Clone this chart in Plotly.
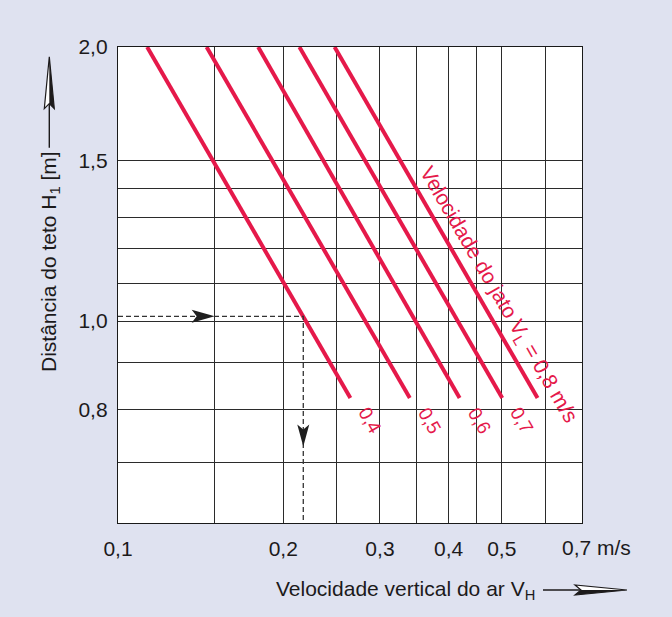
import math
import plotly.graph_objects as go

# Jet outlet velocity V_L of each curve [m/s]
jet_speeds = [0.4, 0.5, 0.6, 0.7, 0.8]
jet_labels = ["0,4", "0,5", "0,6", "0,7"]
# Vertical air velocity V_H [m/s] where each curve starts (H = 2.0 m) and ends (H = 0.823 m)
v_h_start = [0.113, 0.145, 0.180, 0.214, 0.248]
v_h_end = [0.265, 0.340, 0.419, 0.501, 0.581]
h_start = 2.0
h_end = 0.823

# Worked example: ceiling distance -> curve 0,4 -> vertical air velocity
example_h = 1.012
example_v = 0.2175
example_arrow_v = 0.15      # tip of the horizontal arrow
example_arrow_h = 0.728     # tip of the vertical arrow

# Axis extents, labelled ticks and unlabelled grid lines
x_range = [0.1, 0.7]
x_tickvals = [0.1, 0.2, 0.3, 0.4, 0.5]
x_ticktext = ["0,1", "0,2", "0,3", "0,4", "0,5"]
x_minor_grid = [0.15, 0.25, 0.35, 0.45, 0.6, 0.7]
y_range = [0.6, 2.0]
y_tickvals = [0.8, 1.0, 1.5, 2.0]
y_ticktext = ["0,8", "1,0", "1,5", "2,0"]
y_minor_grid = [0.6, 0.7, 0.9, 1.1, 1.2, 1.3, 1.4]

RED = "#E5194A"
INK = "#1c1a1b"
GRID = "#2b2b2b"
BG = "#DFE2F0"
FONT = "Liberation Sans, Arial, sans-serif"

W, H = 672, 617
ML, MR, MT, MB = 118, 90, 47, 94
PW, PH = W - ML - MR, H - MT - MB


def px_to_paper(px, py):
    return (px - ML) / PW, (H - MB - py) / PH


def point_on_curve(i, h):
    """V_H on curve i at ceiling distance h (straight line in log-log)."""
    t = math.log10(h_start / h) / math.log10(h_start / h_end)
    lv = math.log10(v_h_start[i]) + t * (math.log10(v_h_end[i]) - math.log10(v_h_start[i]))
    return 10 ** lv


fig = go.Figure()

# Curves for each jet velocity
for i, vl in enumerate(jet_speeds):
    fig.add_trace(go.Scatter(
        x=[v_h_start[i], v_h_end[i]], y=[h_start, h_end],
        mode="lines", line=dict(color=RED, width=4),
        name=f"V_L = {vl}", showlegend=False, hoverinfo="skip",
    ))

# Dashed reading path of the example
fig.add_trace(go.Scatter(
    x=[x_range[0], example_v, example_v], y=[example_h, example_h, y_range[0]],
    mode="lines", line=dict(color="#333333", width=1.3, dash="5px,3px"),
    showlegend=False, hoverinfo="skip",
))

shapes = []
# arrowhead pointing right on the horizontal dashed line
shapes.append(dict(
    type="path", xref="x", yref="y", xsizemode="pixel", ysizemode="pixel",
    xanchor=example_arrow_v, yanchor=example_h,
    path="M0,0 L-23,6.5 L-18,0 L-23,-6.5 Z",
    fillcolor="#1e1e1e", line=dict(width=0),
))
# arrowhead pointing down on the vertical dashed line
shapes.append(dict(
    type="path", xref="x", yref="y", xsizemode="pixel", ysizemode="pixel",
    xanchor=example_v, yanchor=example_arrow_h,
    path="M0,0 L-6,22 L0,17 L6,22 Z",
    fillcolor="#1e1e1e", line=dict(width=0),
))

# Axis-title arrows (paper anchored, drawn in pixels)
ax_tip = px_to_paper(49.3, 56.7)
shapes += [
    dict(type="path", xref="paper", yref="paper", xsizemode="pixel", ysizemode="pixel",
         xanchor=ax_tip[0], yanchor=ax_tip[1], path="M0,-47 L0,-91",
         line=dict(color=INK, width=1.4)),
    dict(type="path", xref="paper", yref="paper", xsizemode="pixel", ysizemode="pixel",
         xanchor=ax_tip[0], yanchor=ax_tip[1], path="M0,0 L-5,-52 L0,-47 L5,-52 Z",
         fillcolor="white", line=dict(color=INK, width=1.2)),
    dict(type="path", xref="paper", yref="paper", xsizemode="pixel", ysizemode="pixel",
         xanchor=ax_tip[0], yanchor=ax_tip[1], path="M0,0 L0,-47 L5,-52 Z",
         fillcolor=INK, line=dict(width=0)),
]
bx_tip = px_to_paper(627, 590)
shapes += [
    dict(type="path", xref="paper", yref="paper", xsizemode="pixel", ysizemode="pixel",
         xanchor=bx_tip[0], yanchor=bx_tip[1], path="M-47,0 L-84,0",
         line=dict(color=INK, width=1.4)),
    dict(type="path", xref="paper", yref="paper", xsizemode="pixel", ysizemode="pixel",
         xanchor=bx_tip[0], yanchor=bx_tip[1], path="M0,0 L-52,5 L-46,0 L-52,-5 Z",
         fillcolor="white", line=dict(color=INK, width=1.2)),
    dict(type="path", xref="paper", yref="paper", xsizemode="pixel", ysizemode="pixel",
         xanchor=bx_tip[0], yanchor=bx_tip[1], path="M0,0 L-46,0 L-52,-5 Z",
         fillcolor=INK, line=dict(width=0)),
]

annotations = []
# Curve labels at the lower ends
for i, lab in enumerate(jet_labels):
    annotations.append(dict(
        x=math.log10(v_h_end[i]), y=math.log10(h_end), xref="x", yref="y",
        text=lab, showarrow=False, textangle=60, xshift=20, yshift=-22,
        font=dict(family=FONT, size=19, color=RED),
    ))
# Label along the last curve
lab_h = 1.044
annotations.append(dict(
    x=math.log10(point_on_curve(4, lab_h)), y=math.log10(lab_h), xref="x", yref="y",
    text="Velocidade do jato V<sub>L</sub> = 0,8 m/s", showarrow=False,
    textangle=59.8, xshift=15, yshift=9,
    font=dict(family=FONT, size=21, color=RED),
))
# Last x tick label with unit
annotations.append(dict(
    x=math.log10(x_range[1]), y=px_to_paper(0, 547)[1], xref="x", yref="paper",
    text="0,7 m/s", showarrow=False, xanchor="left", yanchor="middle", xshift=-22,
    font=dict(family=FONT, size=21, color=INK),
))
# Axis titles
xt = px_to_paper(537, 590)
annotations.append(dict(
    x=xt[0], y=xt[1], xref="paper", yref="paper", xanchor="right", yanchor="middle",
    text="Velocidade vertical do ar V<sub>H</sub>", showarrow=False,
    font=dict(family=FONT, size=21, color=INK),
))
yt = px_to_paper(50, 262)
annotations.append(dict(
    x=yt[0], y=yt[1], xref="paper", yref="paper", xanchor="center", yanchor="middle",
    text="Distância do teto H<sub>1</sub> [m]", showarrow=False, textangle=-90,
    font=dict(family=FONT, size=21, color=INK),
))

fig.update_layout(
    width=W, height=H, autosize=False,
    margin=dict(l=ML, r=MR, t=MT, b=MB, pad=0),
    paper_bgcolor=BG, plot_bgcolor="white",
    font=dict(family=FONT, size=21, color=INK),
    shapes=shapes, annotations=annotations,
    showlegend=False,
)
fig.update_xaxes(
    type="log", range=[math.log10(x_range[0]), math.log10(x_range[1])],
    tickmode="array", tickvals=x_tickvals, ticktext=x_ticktext,
    showgrid=True, gridcolor=GRID, gridwidth=1,
    minor=dict(tickmode="array", tickvals=x_minor_grid, showgrid=True,
               gridcolor=GRID, gridwidth=1, ticks=""),
    showline=True, mirror=True, linecolor="#1a1a1a", linewidth=1.3,
    ticks="", ticklabelstandoff=7, zeroline=False,
    tickfont=dict(family=FONT, size=21, color=INK),
)
fig.update_yaxes(
    type="log", range=[math.log10(y_range[0]), math.log10(y_range[1])],
    tickmode="array", tickvals=y_tickvals, ticktext=y_ticktext,
    showgrid=True, gridcolor=GRID, gridwidth=1,
    minor=dict(tickmode="array", tickvals=y_minor_grid, showgrid=True,
               gridcolor=GRID, gridwidth=1, ticks=""),
    showline=True, mirror=True, linecolor="#1a1a1a", linewidth=1.3,
    ticks="", ticklabelstandoff=5, zeroline=False,
    tickfont=dict(family=FONT, size=21, color=INK),
)

fig.write_html("out.html")
